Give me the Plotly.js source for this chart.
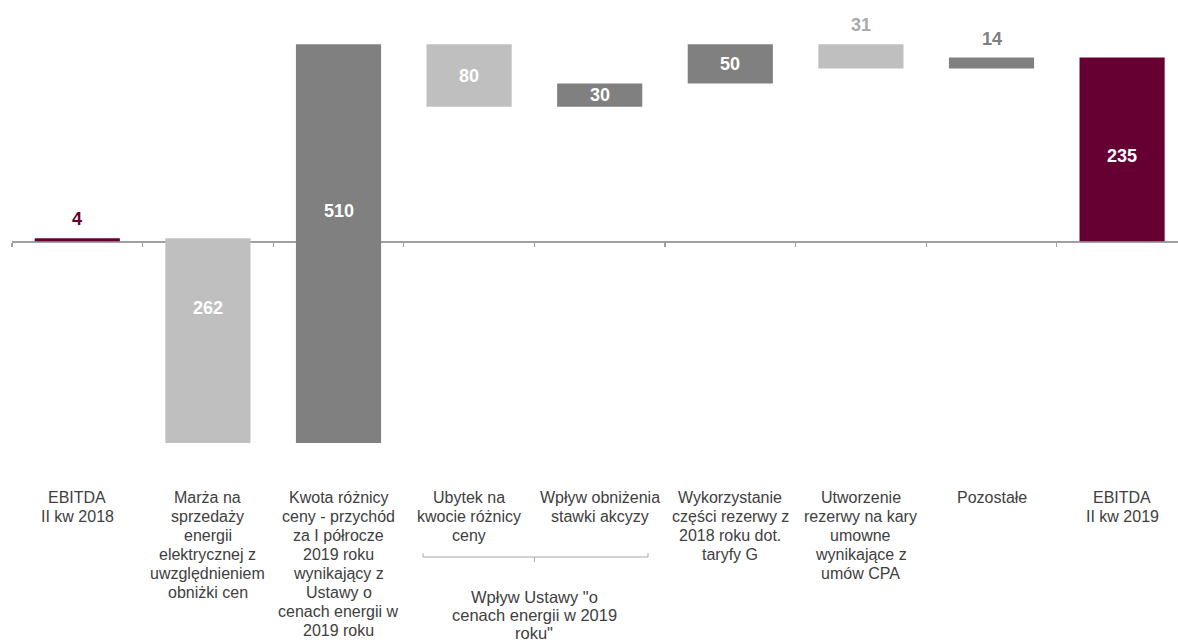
<!DOCTYPE html>
<html>
<head>
<meta charset="utf-8">
<script src="https://cdn.plot.ly/plotly-3.0.1.min.js"></script>
<style>html,body{margin:0;padding:0;background:#fff;}#chart{width:1178px;height:644px;}</style>
</head>
<body>
<div id="chart"></div>
<script>
// ---- data ----
const categories = [
  "EBITDA<br>II kw 2018",
  "Marża na<br>sprzedaży<br>energii<br>elektrycznej z<br>uwzględnieniem<br>obniżki cen",
  "Kwota różnicy<br>ceny - przychód<br>za I półrocze<br>2019 roku<br>wynikający z<br>Ustawy o<br>cenach energii w<br>2019 roku",
  "Ubytek na<br>kwocie różnicy<br>ceny",
  "Wpływ obniżenia<br>stawki akcyzy",
  "Wykorzystanie<br>części rezerwy z<br>2018 roku dot.<br>taryfy G",
  "Utworzenie<br>rezerwy na kary<br>umowne<br>wynikające z<br>umów CPA",
  "Pozostałe",
  "EBITDA<br>II kw 2019"
];
const values = [4, -262, 510, -80, 30, 50, -31, 14, 235];
const measures = ["total", "relative", "relative", "relative", "relative", "relative", "relative", "relative", "total"];
const labelPlacement = ["out", "in", "in", "in", "in", "in", "out", "out", "in"];
const groupLabel = "Wpływ Ustawy \"o<br>cenach energii w 2019<br>roku\"";
const groupMembers = [3, 4];

// ---- styles ----
const C_TOTAL = "#660033", C_UP = "#808080", C_DOWN = "#bfbfbf";
const TXT = "#404040";
const FONT = "Liberation Sans, Arial, sans-serif";

// ---- build waterfall geometry from data ----
const xs = categories.map((_, i) => i);
let running = 0;
const bases = [], colors = [];
values.forEach((v, i) => {
  if (measures[i] === "total") {
    bases.push(0); colors.push(C_TOTAL); running = v;
  } else {
    bases.push(running); colors.push(v >= 0 ? C_UP : C_DOWN); running += v;
  }
});

const yTop = 295.9, yBot = -279.7;
const plotTop = 10, plotH = 450;
const pxPerUnit = plotH / (yTop - yBot);
const zeroPx = plotTop + yTop * pxPerUnit;

const annotations = [];
function multiline(x, text, firstCenterPx, step, size) {
  text.split("<br>").forEach((ln, j) => {
    annotations.push({
      x: x, y: 0, xref: "x", yref: "y", text: ln,
      showarrow: false, yanchor: "middle", xanchor: "center",
      yshift: -(firstCenterPx + j * step - zeroPx),
      font: {family: FONT, size: size, color: TXT}
    });
  });
}

values.forEach((v, i) => {
  const b = bases[i], t = b + v;
  const hi = Math.max(b, t), lo = Math.min(b, t);
  if (labelPlacement[i] === "out") {
    annotations.push({
      x: i, y: hi, xref: "x", yref: "y", text: "<b>" + Math.abs(v) + "</b>",
      showarrow: false, yanchor: "middle", yshift: 19,
      font: {family: FONT, size: 18, color: colors[i] === C_DOWN ? "#aaaaaa" : colors[i]}
    });
  } else {
    const crosses = lo < 0 && hi > 0;
    annotations.push({
      x: i, y: (hi + lo) / 2, xref: "x", yref: "y", text: "<b>" + Math.abs(v) + "</b>",
      showarrow: false, yanchor: "middle", yshift: crosses ? 33 : (measures[i] === "total" ? -7 : 0),
      font: {family: FONT, size: 18, color: "#ffffff"}
    });
  }
  multiline(i, categories[i], 498, 19, 16);
});

// group bracket
const gMid = (groupMembers[0] + groupMembers[1]) / 2;
const gL = groupMembers[0] - 0.353, gR = groupMembers[1] + 0.37;
const bracketPx = 557;
const toPaper = px => 1 - (px - plotTop) / plotH;
const shapes = [
  {type: "line", xref: "x", yref: "paper", x0: gL, x1: gR, y0: toPaper(bracketPx), y1: toPaper(bracketPx), line: {color: "#a6a6a6", width: 1}},
  {type: "line", xref: "x", yref: "paper", x0: gL, x1: gL, y0: toPaper(bracketPx), y1: toPaper(bracketPx - 4), line: {color: "#a6a6a6", width: 1}},
  {type: "line", xref: "x", yref: "paper", x0: gR, x1: gR, y0: toPaper(bracketPx), y1: toPaper(bracketPx - 4), line: {color: "#a6a6a6", width: 1}},
  {type: "line", xref: "x", yref: "paper", x0: gMid, x1: gMid, y0: toPaper(bracketPx), y1: toPaper(bracketPx + 5), line: {color: "#a6a6a6", width: 1}}
];
multiline(gMid, groupLabel, 597, 18, 16.5);

const trace = {
  type: "bar", x: xs, y: values, base: bases,
  marker: {color: colors, line: {width: 0}},
  width: 0.652, hoverinfo: "skip", cliponaxis: false
};

const layout = {
  width: 1178, height: 644,
  margin: {l: 12, r: 0, t: plotTop, b: 644 - plotTop - plotH, pad: 0},
  paper_bgcolor: "#ffffff", plot_bgcolor: "#ffffff",
  showlegend: false,
  xaxis: {
    range: [-0.5, -0.5 + 1166 / 130.6],
    tickvals: categories.map((_, i) => i - 0.5).concat([categories.length - 0.5]),
    showticklabels: false, ticks: "outside", ticklen: 4, tickwidth: 1.3, tickcolor: "#a0a0a0",
    showline: true, linecolor: "#a0a0a0", linewidth: 1.5,
    showgrid: false, zeroline: false, fixedrange: true,
    anchor: "free", position: -yBot / (yTop - yBot), layer: "below traces"
  },
  yaxis: {
    range: [yBot, yTop], visible: false, showgrid: false, zeroline: false, fixedrange: true
  },
  annotations: annotations,
  shapes: shapes
};

Plotly.newPlot("chart", [trace], layout, {displayModeBar: false, staticPlot: true});
</script>
</body>
</html>
